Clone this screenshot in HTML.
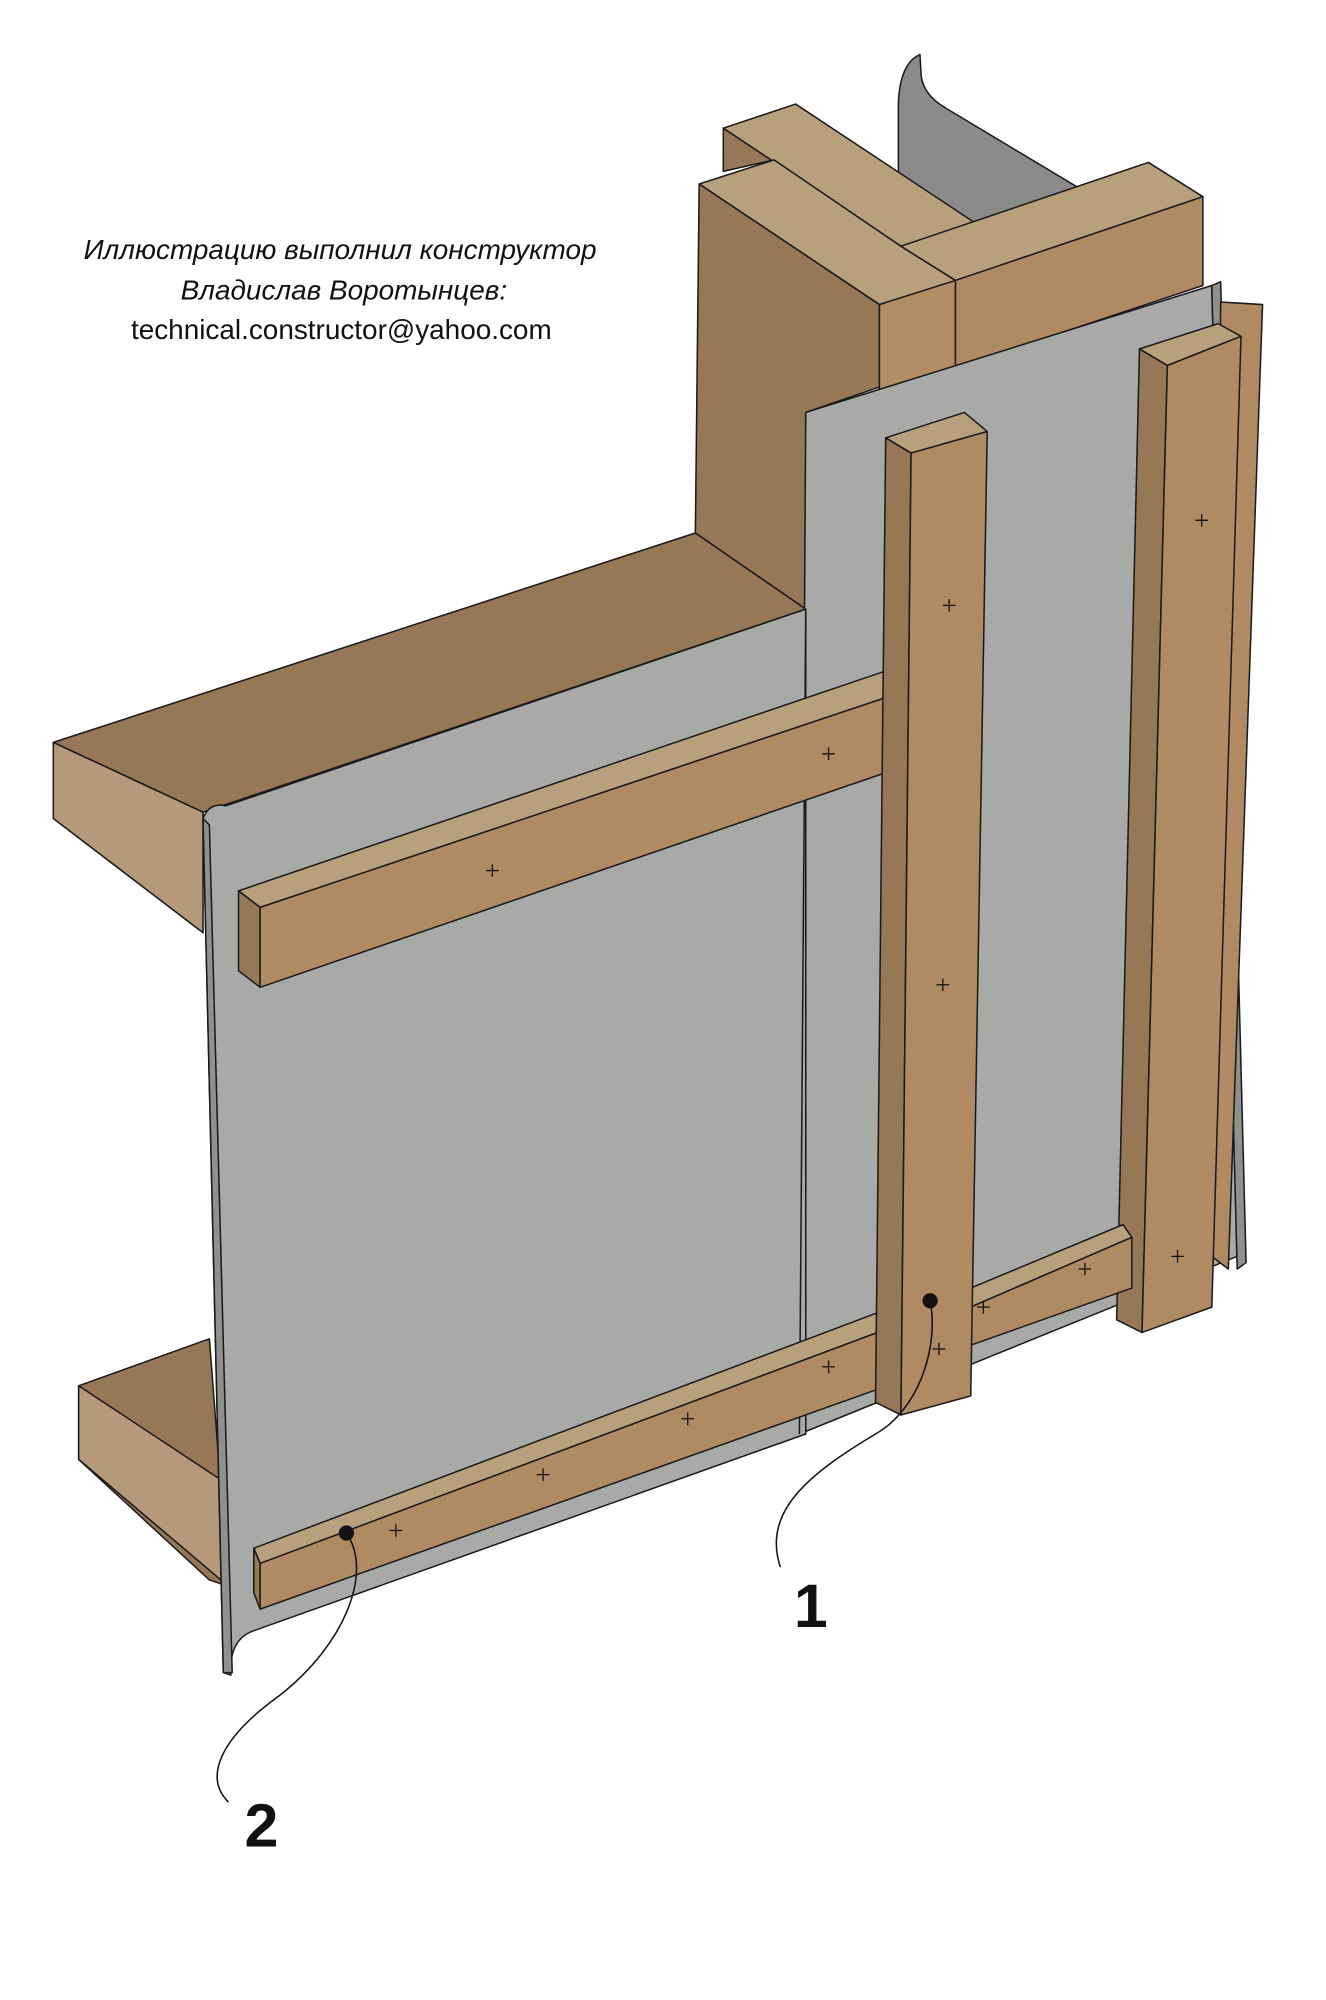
<!DOCTYPE html>
<html><head><meta charset="utf-8"><style>
html,body{margin:0;padding:0;background:#fff;}
svg{display:block;}
</style></head><body>
<svg width="1326" height="2000" viewBox="0 0 1045 1576" preserveAspectRatio="none" xmlns="http://www.w3.org/2000/svg">
<g stroke="#1a1a1a" stroke-width="1.2" stroke-linejoin="round">
<!-- back metal sheet top -->
<path d="M708,82 Q709,50 725,43 L726,60 Q728,75 745,85 L850,148 L850,160 L708,205 Z" fill="#8a8a8a"/>
<!-- back beam -->
<polygon points="570,101 570,135 610,126" fill="#967756"/>
<polygon points="570,101 627,82 769,176 710,194" fill="#b8a07c"/>
<!-- front beam (top of tall block) -->
<polygon points="551,145 610,126 710,194 753,221 693,240" fill="#b8a07c"/>
<!-- cross beam -->
<polygon points="710,194 905,128 948,155 753,221" fill="#b8a07c"/>
<polygon points="693,240 753,221 753,292 693,310" fill="#b38d63"/>
<polygon points="753,221 948,155 948,225 753,290" fill="#b08a62"/>
<!-- tall dark block -->
<polygon points="551,145 693,240 693,305 635,325 635,480 548,420" fill="#967756"/>
<!-- left slab top -->
<polygon points="42,585 548,420 635,480 160,640" fill="#967756"/>
<polygon points="42,585 160,640 160,735 42,645" fill="#b5997a"/>
<!-- bottom slab -->
<polygon points="62,1092 165,1055 180,1250 165,1245 62,1150" fill="#967756"/>
<polygon points="62,1092 180,1170 180,1250 62,1150" fill="#b5997a"/>
<!-- right membrane panel -->
<polygon points="635,325 955,225 975,990 630,1130" fill="#a7aaa6"/>
<polygon points="955,225 962,222 982,995 975,1000" fill="#8f918d"/>
<!-- left membrane panel -->
<path d="M160,645 Q165,632 178,635 L635,480 L635,1130 L200,1285 Q180,1292 182,1320 L176,1318 Z" fill="#a7aaa6"/>
<path d="M160,645 L165,650 L183,1318 L176,1318 Z" fill="#8f918d"/>
<line x1="635" y1="480" x2="630" y2="1130"/>
<!-- right outer posts -->
<polygon points="962,238 995,240 968,1000 955,990" fill="#b08a62"/>
<polygon points="898,275 960,255 978,265 920,288" fill="#b8a07c"/>
<polygon points="898,275 920,288 900,1050 880,1040" fill="#967756"/>
<polygon points="920,288 978,265 955,1030 900,1050" fill="#b08a62"/>
<!-- lower right horizontal -->
<polygon points="765,1015 885,965 892,975 765,1030" fill="#b8a07c"/>
<polygon points="765,1030 892,975 892,1015 765,1060" fill="#b08a62"/>
<!-- top horizontal batten -->
<polygon points="188,702 700,528 718,543 205,715" fill="#b8a07c"/>
<polygon points="188,702 205,715 205,778 188,765" fill="#967756"/>
<polygon points="205,715 718,543 718,602 205,778" fill="#b08a62"/>
<!-- bottom horizontal batten -->
<polygon points="200,1220 690,1035 705,1045 205,1232" fill="#b8a07c"/>
<polygon points="200,1220 205,1232 205,1268 200,1255" fill="#967756"/>
<polygon points="205,1232 705,1045 705,1090 205,1268" fill="#b08a62"/>
<!-- vertical post -->
<polygon points="698,345 760,325 778,340 718,357" fill="#b8a07c"/>
<polygon points="698,345 718,357 710,1115 690,1105" fill="#967756"/>
<polygon points="718,357 778,340 765,1100 710,1115" fill="#b08a62"/>
</g>
<g stroke="#111" stroke-width="1" fill="none">
<path d="M383,686h10M388,681v10 M648,594h10M653,589v10 M743,477h10M748,472v10 M738,776h10M743,771v10 M942,410h10M947,405v10 M923,990h10M928,985v10 M850,1000h10M855,995v10 M770,1030h10M775,1025v10 M735,1063h10M740,1058v10 M648,1077h10M653,1072v10 M537,1118h10M542,1113v10 M423,1162h10M428,1157v10 M307,1206h10M312,1201v10"/>
<path d="M733,1025 C740,1060 725,1110 690,1130 C640,1160 600,1190 615,1235" stroke-width="1.2"/>
<path d="M273,1208 C295,1240 270,1300 215,1340 C175,1370 160,1400 180,1420" stroke-width="1.2"/>
</g>
<circle cx="733" cy="1025" r="6" fill="#111"/>
<circle cx="273" cy="1208" r="6" fill="#111"/>
<g font-family="'Liberation Sans', sans-serif" fill="#111" text-anchor="middle">
<text x="268" y="204" font-size="22" font-style="italic">Иллюстрацию выполнил конструктор</text>
<text x="271" y="236" font-size="22" font-style="italic">Владислав Воротынцев:</text>
<text x="269" y="267" font-size="22">technical.constructor@yahoo.com</text>
<text x="639" y="1282" font-size="48" font-weight="bold">1</text>
<text x="206" y="1455" font-size="48" font-weight="bold">2</text>
</g>
</svg>
</body></html>
